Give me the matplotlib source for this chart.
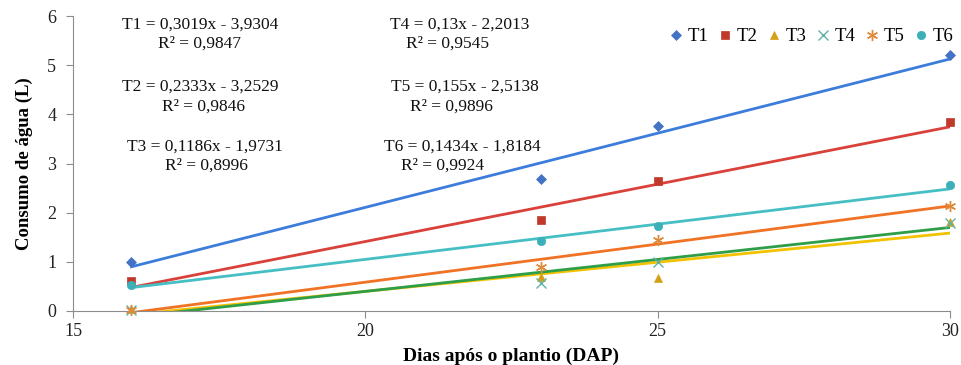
import matplotlib.pyplot as plt
import numpy as np

plt.rcParams['font.family'] = ['Liberation Serif', 'DejaVu Serif']

# days after planting
dias = [16, 23, 25, 30]

# water consumption (L) per treatment
t1 = [1.00, 2.68, 3.77, 5.21]
t2 = [0.60, 1.86, 2.65, 3.84]
t3 = [0.05, 0.69, 0.68, 1.81]
t4 = [0.02, 0.56, 1.00, 1.80]
t5 = [0.03, 0.90, 1.44, 2.14]
t6 = [0.52, 1.42, 1.72, 2.56]

series_names = ["T1", "T2", "T3", "T4", "T5", "T6"]
series_values = [t1, t2, t3, t4, t5, t6]

# linear trend lines as printed on the chart (slope, intercept, R2)
slopes = [0.3019, 0.2333, 0.1186, 0.13, 0.155, 0.1434]
intercepts = [-3.9304, -3.2529, -1.9731, -2.2013, -2.5138, -1.8184]
r2_values = ["0,9847", "0,9846", "0,8996", "0,9545", "0,9896", "0,9924"]
eq_texts = ["0,3019x - 3,9304", "0,2333x - 3,2529", "0,1186x - 1,9731",
            "0,13x - 2,2013", "0,155x - 2,5138", "0,1434x - 1,8184"]

marker_colors = ["#4472C4", "#C0392B", "#D4A017", "#5FB3A8", "#E08A3C", "#3BB0B8"]
line_colors = ["#3C7DDC", "#D9413A", "#F2C200", "#2E9E48", "#F07224", "#45BFC4"]
markers = ["D", "s", "^", "x", (6, 2, 0), "o"]
marker_sizes = [5, 6, 6, 7, 8, 6]
marker_edge = [0.5, 0.5, 0.5, 1.0, 1.0, 0.5]

fig = plt.figure(figsize=(9.62, 3.65), dpi=100)
ax = fig.add_axes([0.0759, 0.148, 0.9116, 0.808])

x_line = np.array([dias[0], dias[-1]])
for i in range(len(series_names)):
    ax.plot(x_line, slopes[i] * x_line + intercepts[i], color=line_colors[i],
            lw=2, zorder=2)
for i in range(len(series_names)):
    ax.plot(dias, series_values[i], linestyle="none", marker=markers[i],
            ms=marker_sizes[i], color=marker_colors[i], mew=marker_edge[i],
            label=series_names[i], zorder=3, clip_on=False)

ax.set_xlim(15, 30)
ax.set_ylim(0, 6)
ax.set_xticks([15, 20, 25, 30])
ax.set_yticks(range(0, 7))
for side in ["top", "right"]:
    ax.spines[side].set_visible(False)
for side in ["left", "bottom"]:
    ax.spines[side].set_color("#8c8c8c")
ax.tick_params(axis="both", colors="#8c8c8c", labelcolor="#222222",
               labelsize=13, length=5)
ax.tick_params(axis="y", pad=7)
ax.tick_params(axis="x", pad=4)

ax.set_xlabel("Dias após o plantio (DAP)", fontsize=14, fontweight="bold",
              labelpad=5)
ax.set_ylabel("Consumo de água (L)", fontsize=13.5, fontweight="bold",
              labelpad=10)

leg = ax.legend(loc="upper right", bbox_to_anchor=(1.012, 0.985), ncol=6,
                frameon=False, fontsize=13.5, handlelength=0.6,
                handletextpad=0.3, columnspacing=0.6, borderaxespad=0)

# equation labels
eq_pos = [(200, 25, 200, 44), (200, 87, 203, 107), (205, 147, 206, 166),
          (460, 25, 448, 44), (465, 87, 451, 107), (462, 147, 443, 166)]
for i in range(len(series_names)):
    ex, ey, rx, ry = eq_pos[i]
    fig.text(ex / 962, 1 - ey / 365, f"{series_names[i]} = {eq_texts[i]}",
             ha="center", va="center", fontsize=12.5, color="#111111")
    fig.text(rx / 962, 1 - ry / 365, f"R² = {r2_values[i]}",
             ha="center", va="center", fontsize=12.5, color="#111111")

fig.savefig("out.png", dpi=100)
